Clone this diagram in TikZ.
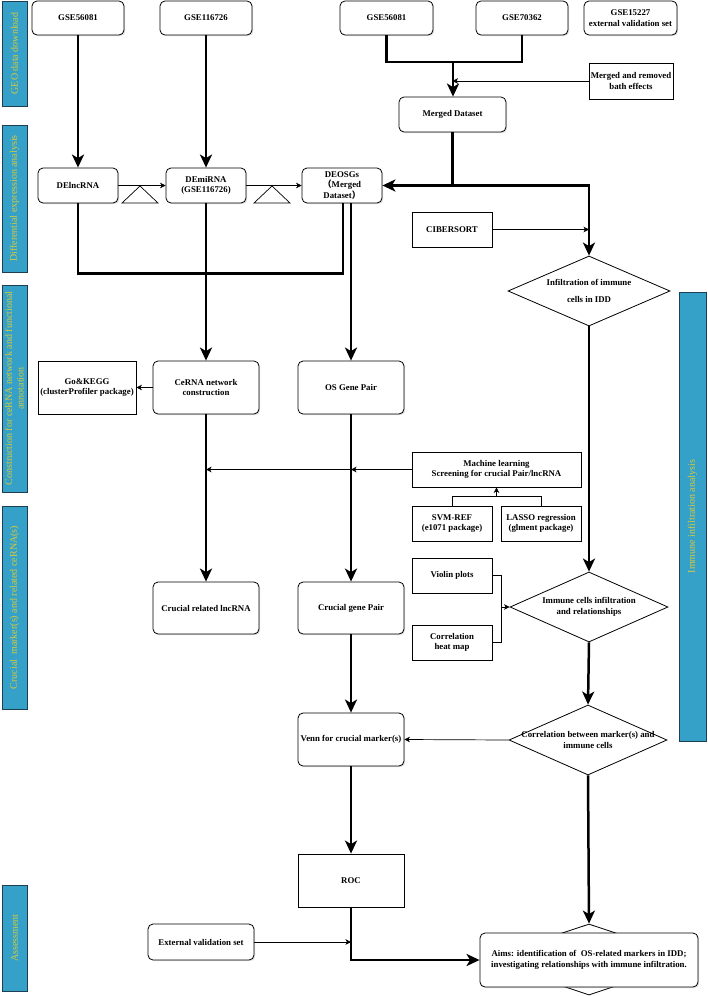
\documentclass[tikz,border=0pt]{standalone}
\usepackage{fontspec}
\setmainfont{Liberation Serif}
\newfontfamily\cjkfont{Noto Sans CJK SC}
\usetikzlibrary{arrows.meta,shapes.geometric,shadows,calc}
\definecolor{barblue}{HTML}{35A0C8}
\definecolor{bartext}{HTML}{D8CC3A}
\definecolor{barline}{HTML}{1E3F52}
\newcommand{\zw}[1]{\makebox[0pt]{#1}}
\newcommand{\fwl}{{\cjkfont （}}
\newcommand{\fwr}{{\cjkfont ）}}
\tikzset{
  boxbase/.style={draw=black, line width=0.8pt, fill=white, text=black,
    font=\fontsize{8.8}{10.7}\selectfont\bfseries, align=center, inner sep=1pt},
  shd/.style={drop shadow={shadow xshift=1.2pt, shadow yshift=-1.2pt, opacity=0.25}},
  rbox/.style={boxbase, rounded corners=5pt, shd},
  sbox/.style={boxbase, rectangle, shd},
  dia/.style={boxbase, diamond, inner sep=0pt},
  sidebar/.style={draw=barline, line width=0.8pt, fill=barblue, text=bartext,
    font=\fontsize{10}{11.5}\selectfont, rotate=90, align=center,
    minimum height=25pt, inner sep=1pt, shd},
  thk/.style={line width=2.5pt, -{Stealth[length=13pt,width=12pt,inset=3.5pt]}},
  thkl/.style={line width=2.5pt},
  thn/.style={line width=0.7pt, -{Stealth[length=5.5pt,width=5.5pt,inset=1.5pt]}},
  thnl/.style={line width=0.7pt}
}
\begin{document}
\begin{tikzpicture}[x=1pt,y=-1pt]
\useasboundingbox (0,0) rectangle (708,996);

% side bars
\node[sidebar, minimum width=105pt] (b1) at (14.5,53.5) {GEO data download};
\node[sidebar, minimum width=147pt] (b2) at (14.5,198.5) {Differential expression analysis};
\node[sidebar, minimum width=207pt] (b3) at (14.5,388.5) {Construction for ceRNA network and functional\\annotation};
\node[sidebar, minimum width=203pt] (b4) at (14.5,607.5) {Crucial\ \ marker(s) and related ceRNA(s)};
\node[sidebar, minimum width=106pt] (b5) at (14.5,938) {Assessment};
\node[sidebar, minimum width=449pt, minimum height=27pt] (b6) at (692.5,516.5) {Immune infiltration analysis};

% top row
\node[rbox, minimum width=92pt, minimum height=34pt] (g1) at (78,18) {GSE56081};
\node[rbox, minimum width=92pt, minimum height=34pt] (g2) at (206,18) {GSE116726};
\node[rbox, minimum width=93pt, minimum height=34pt] (g3) at (386.5,18) {GSE56081};
\node[rbox, minimum width=92pt, minimum height=34pt] (g4) at (522,18) {GSE70362};
\node[rbox, minimum width=93pt, minimum height=34pt] (g5) at (630.5,18) {GSE15227\\external validation set};

\node[sbox, minimum width=84pt, minimum height=36pt] (mrb) at (631,81) {Merged and removed\\bath effects};
\node[rbox, minimum width=107pt, minimum height=35pt] (merged) at (452.5,114.5) {Merged Dataset};

% DE row
\node[rbox, minimum width=80pt, minimum height=35pt] (del) at (78,185.5) {DElncRNA};
\node[rbox, minimum width=80pt, minimum height=35pt] (dem) at (206,185.5) {DEmiRNA\\(GSE116726)};
\node[rbox, minimum width=80pt, minimum height=35pt] (deo) at (342,185.5) {DEOSGs\\\fwl Merged\\Dataset\fwr};

\node[sbox, minimum width=80pt, minimum height=35pt] (cib) at (452,229.5) {CIBERSORT};
\node[dia, minimum width=162pt, minimum height=70pt] (d1) at (589,291) {\zw{Infiltration of immune}\\[7pt]\zw{cells in IDD}};

% ceRNA row
\node[sbox, minimum width=98pt, minimum height=53pt] (go) at (87,387.5) {Go\&KEGG\\(clusterProfiler package)};
\node[rbox, minimum width=106pt, minimum height=53pt] (cer) at (206,387.5) {CeRNA network\\construction};
\node[rbox, minimum width=106pt, minimum height=53pt] (osg) at (351,387.5) {OS Gene Pair};

\node[sbox, minimum width=169pt, minimum height=35pt] (ml) at (496.5,469.5) {Machine learning\\Screening for crucial Pair/lncRNA};
\node[sbox, minimum width=80pt, minimum height=35pt] (svm) at (452,523.5) {SVM-REF\\(e1071 package)};
\node[sbox, minimum width=80pt, minimum height=35pt] (lasso) at (541,523.5) {LASSO regression\\(glment package)};

\node[rbox, minimum width=106pt, minimum height=52pt] (crl) at (206,608) {Crucial related lncRNA};
\node[rbox, minimum width=106pt, minimum height=52pt] (cgp) at (351,608) {Crucial gene Pair};

\node[sbox, minimum width=80pt, minimum height=35pt] (vio) at (452,575.5) {Violin plots};
\node[sbox, minimum width=80pt, minimum height=35pt] (heat) at (452,642.5) {Correlation\\heat map};
\node[dia, minimum width=158pt, minimum height=70pt] (d2) at (589,607) {\zw{Immune cells infiltration}\\\zw{and relationships}};
\node[dia, minimum width=158pt, minimum height=70pt] (d3) at (588,740) {\zw{Correlation between marker(s) and}\\\zw{immune cells}};

\node[rbox, minimum width=106pt, minimum height=53pt] (venn) at (351,739.5) {Venn for crucial marker(s)};
\node[sbox, minimum width=106pt, minimum height=53pt] (roc) at (351,880.5) {ROC};
\node[rbox, minimum width=106pt, minimum height=36pt] (ext) at (201,942) {External validation set};

\node[dia, minimum width=214pt, minimum height=71pt] (d4) at (589,959.5) {};
\node[rbox, minimum width=218pt, minimum height=54pt] (aims) at (589,960) {Aims: identification of\ \ OS-related markers in IDD;\\investigating relationships with immune infiltration.};

% triangles
\draw[line width=0.7pt] (122,203) -- (140,186) -- (158,203) -- cycle;
\draw[line width=0.7pt] (254,203) -- (272,186) -- (290,203) -- cycle;

% connectors: top
\draw[thk] (g1) -- (del);
\draw[thk] (g2) -- (dem);
\coordinate (mj) at (453,62);
\draw[thkl] (g3.south) |- (mj) -| (g4.south);
\draw[thk] (mj) -- (mj |- merged.north);
\draw[thn] (mrb.west) -- (mrb.west -| merged.north);
\coordinate (mb) at (merged.south |- deo.east);
\draw[thkl] (merged.south) -- (mb);
\draw[thk] (mb) -- (deo.east);
\draw[thk] (mb) -| (d1.north);
\draw[thn] (cib.east) -- (cib.east -| d1.north);

\draw[thn] (del.east) -- (dem.west);
\draw[thn] (dem.east) -- (deo.west);

% loop from DElncRNA to DEOSGs
\coordinate (lr) at ($(deo.south)+(1,0)$);
\coordinate (lb) at ($(lr)+(0,70)$);
\draw[thkl] (del.south) |- (lb) -- (lr);

\draw[thk] (dem.south) -- (cer.north);
\draw[thk] (osg.north |- deo.south) -- (osg.north);
\draw[thn] (cer.west) -- (go.east);

% machine learning
\draw[thn] (ml.west) -- (ml.west -| cer.south);
\draw[thn] (ml.west) -- (ml.west -| osg.south);
\coordinate (brm) at ($(ml.south)+(0,9)$);
\draw[thnl] (svm.north) |- (brm) -| (lasso.north);
\draw[thn] (brm) -- (ml.south);

\draw[thk] (cer.south) -- (crl.north);
\draw[thk] (osg.south) -- (cgp.north);
\draw[thk] (cgp.south) -- (venn.north);
\draw[thk] (venn.south) -- (roc.north);

% immune column
\draw[thk] (d1.south) -- (d2.north);
\draw[thk] (d2.south) -- (d3.north);
\draw[thn] (d3.west) -- (venn.east);
\draw[thk] (d3.south) -- (d4.north);

\coordinate (vb) at ($(vio.east)+(9,0)$);
\draw[thnl] (vio.east) -- (vb) -- (vb |- heat.east) -- (heat.east);
\draw[thn] (vb |- d2.west) -- (d2.west);

% assessment
\draw[thk] (roc.south) |- (aims.west);
\draw[thn] (ext.east) -- (ext.east -| roc.south);
\end{tikzpicture}
\end{document}
